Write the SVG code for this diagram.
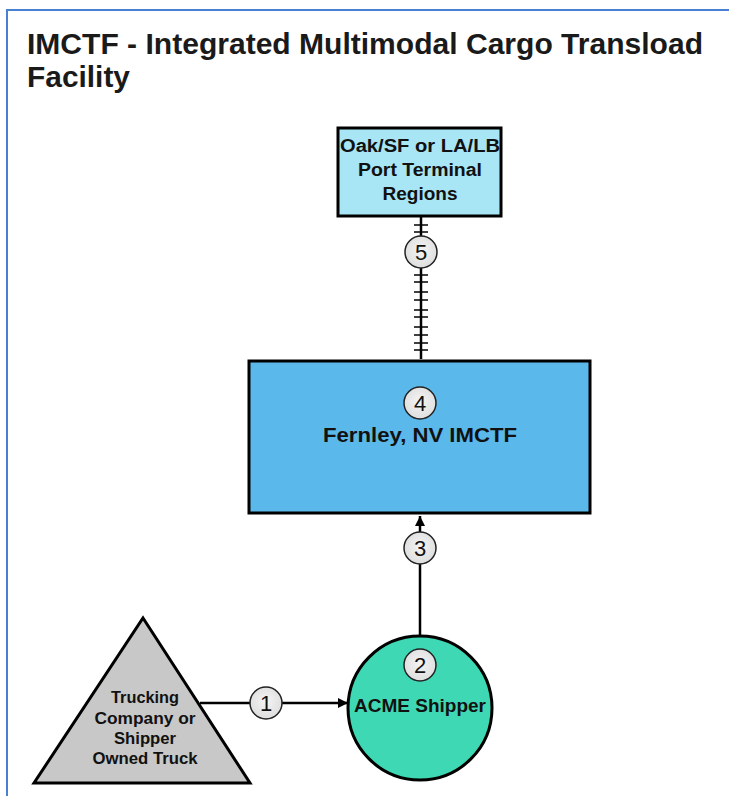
<svg xmlns="http://www.w3.org/2000/svg" width="729" height="796" viewBox="0 0 729 796">
  <defs>
    <marker id="arrow" viewBox="0 0 10 10" refX="10" refY="5" markerWidth="10" markerHeight="10" markerUnits="userSpaceOnUse" orient="auto">
      <path d="M0,0 L10,5 L0,10 Z" fill="#000"/>
    </marker>
    <radialGradient id="badgeFill" cx="50%" cy="45%" r="60%">
      <stop offset="0%" stop-color="#f4f4f4"/>
      <stop offset="100%" stop-color="#dcdcdc"/>
    </radialGradient>
  </defs>
  <style>
    .frame { fill: none; stroke: #4a80d4; stroke-width: 2; }
    .title { font-family: "Liberation Sans", Arial, sans-serif; font-weight: bold; font-size: 29px; fill: #1a1a1a; }
    .shape { stroke: #000; stroke-width: 3; }
    .label { font-family: "Liberation Sans", Arial, sans-serif; font-weight: bold; fill: #111; text-anchor: middle; }
    .badge circle { fill: url(#badgeFill); stroke: #222; stroke-width: 1.5; }
    .badge text { font-family: "Liberation Sans", Arial, sans-serif; font-size: 22px; fill: #111; text-anchor: middle; }
    .conn { stroke: #000; stroke-width: 2.5; fill: none; }
    .tick { stroke: #000; stroke-width: 1.5; }
  </style>

  <rect width="729" height="796" fill="#fff"/>
  <!-- panel frame -->
  <path class="frame" d="M729,10 H7 V796"/>

  <!-- heading -->
  <text class="title" x="27" y="54" textLength="676" lengthAdjust="spacingAndGlyphs">IMCTF - Integrated Multimodal Cargo Transload</text>
  <text class="title" x="27" y="87" textLength="103" lengthAdjust="spacingAndGlyphs">Facility</text>

  <!-- connectors -->
  <g id="connectors">
    <!-- rail link: port terminals to Fernley -->
    <line class="conn" x1="421" y1="217" x2="421" y2="359"/>
    <g class="tick">
      <line x1="414" y1="225" x2="428" y2="225"/>
      <line x1="414" y1="232" x2="428" y2="232"/>
      <line x1="414" y1="275" x2="428" y2="275"/>
      <line x1="414" y1="282" x2="428" y2="282"/>
      <line x1="414" y1="292" x2="428" y2="292"/>
      <line x1="414" y1="300" x2="428" y2="300"/>
      <line x1="414" y1="310" x2="428" y2="310"/>
      <line x1="414" y1="317" x2="428" y2="317"/>
      <line x1="414" y1="327" x2="428" y2="327"/>
      <line x1="414" y1="335" x2="428" y2="335"/>
      <line x1="414" y1="343" x2="428" y2="343"/>
      <line x1="414" y1="350" x2="428" y2="350"/>
    </g>
    <!-- shipper to Fernley -->
    <line class="conn" x1="420" y1="636" x2="420" y2="516" marker-end="url(#arrow)"/>
    <!-- truck to shipper -->
    <line class="conn" x1="200" y1="703" x2="348" y2="703" marker-end="url(#arrow)"/>

    <g class="badge" id="badge-5"><circle cx="421" cy="252" r="16"/><text x="421" y="260">5</text></g>
    <g class="badge" id="badge-3"><circle cx="420" cy="548" r="16"/><text x="420" y="556">3</text></g>
    <g class="badge" id="badge-1"><circle cx="266" cy="703" r="16"/><text x="266" y="711">1</text></g>
  </g>

  <!-- port terminal regions -->
  <g id="node-port">
    <rect class="shape" x="338" y="128" width="163" height="88" fill="#a8e5f5"/>
    <text class="label" font-size="18" x="420" y="152" textLength="160" lengthAdjust="spacingAndGlyphs">Oak/SF or LA/LB</text>
    <text class="label" font-size="18" x="420" y="176" textLength="124" lengthAdjust="spacingAndGlyphs">Port Terminal</text>
    <text class="label" font-size="18" x="420" y="200" textLength="75" lengthAdjust="spacingAndGlyphs">Regions</text>
  </g>

  <!-- Fernley facility -->
  <g id="node-fernley">
    <rect class="shape" x="249" y="361" width="341" height="152" fill="#5bb8ea"/>
    <g class="badge"><circle cx="420" cy="403" r="16"/><text x="420" y="411">4</text></g>
    <text class="label" font-size="21" x="420" y="442" textLength="194" lengthAdjust="spacingAndGlyphs">Fernley, NV IMCTF</text>
  </g>

  <!-- shipper -->
  <g id="node-shipper">
    <circle class="shape" cx="420" cy="708" r="72" fill="#3fd8b4"/>
    <g class="badge"><circle cx="420" cy="665" r="16"/><text x="420" y="673">2</text></g>
    <text class="label" font-size="19" x="420" y="712" textLength="132" lengthAdjust="spacingAndGlyphs">ACME Shipper</text>
  </g>

  <!-- truck operator -->
  <g id="node-truck">
    <polygon class="shape" points="143,618 250,783 34,783" fill="#c8c8c8"/>
    <text class="label" font-size="16" x="145" y="703" textLength="68" lengthAdjust="spacingAndGlyphs">Trucking</text>
    <text class="label" font-size="16" x="145" y="724" textLength="101" lengthAdjust="spacingAndGlyphs">Company or</text>
    <text class="label" font-size="16" x="145" y="744" textLength="62" lengthAdjust="spacingAndGlyphs">Shipper</text>
    <text class="label" font-size="16" x="145" y="764" textLength="105" lengthAdjust="spacingAndGlyphs">Owned Truck</text>
  </g>
</svg>
